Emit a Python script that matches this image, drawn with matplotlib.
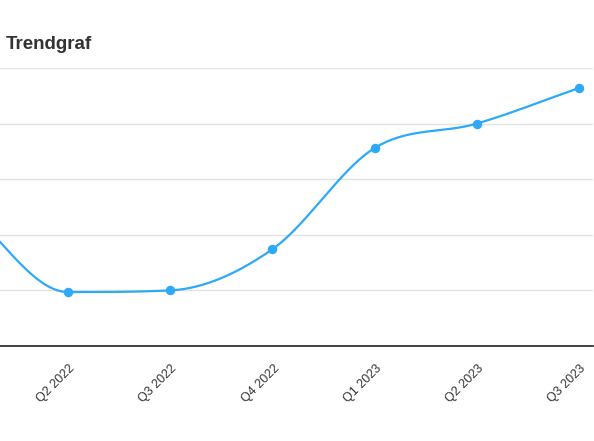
import numpy as np
import matplotlib
matplotlib.use("Agg")
import matplotlib.pyplot as plt
from matplotlib.transforms import ScaledTranslation

quarters = ["Q1 2022", "Q2 2022", "Q3 2022", "Q4 2022", "Q1 2023", "Q2 2023", "Q3 2023"]
values = [2.5, 0.97, 1.0, 1.74, 3.56, 4.0, 4.64]

line_color = "#2ea9f7"


def monotone_curve(xs, ys, steps=60):
    # chart.js style monotone cubic
    xs = np.asarray(xs, float)
    ys = np.asarray(ys, float)
    d = np.diff(ys) / np.diff(xs)
    m = np.zeros(len(ys))
    m[0] = d[0]
    m[-1] = d[-1]
    for i in range(1, len(ys) - 1):
        if d[i - 1] * d[i] > 0:
            m[i] = (d[i - 1] + d[i]) / 2
    for i in range(len(d)):
        if abs(d[i]) < 1e-9:
            m[i] = m[i + 1] = 0
            continue
        a = m[i] / d[i]
        b = m[i + 1] / d[i]
        s = a * a + b * b
        if s <= 9:
            continue
        tau = 3 / np.sqrt(s)
        m[i] = a * tau * d[i]
        m[i + 1] = b * tau * d[i]
    px, py = [], []
    for i in range(len(d)):
        h = xs[i + 1] - xs[i]
        t = np.linspace(0, 1, steps)
        h00 = 2 * t**3 - 3 * t**2 + 1
        h10 = t**3 - 2 * t**2 + t
        h01 = -2 * t**3 + 3 * t**2
        h11 = t**3 - t**2
        px.extend(xs[i] + t * h)
        py.extend(h00 * ys[i] + h10 * h * m[i] + h01 * ys[i + 1] + h11 * h * m[i + 1])
    return np.array(px), np.array(py)


x = np.arange(len(quarters))
cx, cy = monotone_curve(x, values)

fig = plt.figure(figsize=(5.94, 4.41), dpi=100)
ax = fig.add_axes([0, 95 / 441, 593 / 594, 278 / 441])

for g in [1, 2, 3, 4, 5]:
    ax.axhline(g, color="#e2e2e2", lw=1, zorder=0)

ax.plot(cx, cy, color=line_color, lw=1.6, zorder=2)
ax.plot(x, values, "o", color=line_color, ms=5.8, zorder=3)

ax.set_yticks([])
ax.set_xticks(x)
ax.set_xticklabels(quarters, rotation=45, ha="right", va="center",
                   rotation_mode="anchor", fontsize=9, color="#333333",
                   family="Liberation Sans")
ax.tick_params(axis="x", length=0, pad=15)
shift = ScaledTranslation(5 / 100, 0, fig.dpi_scale_trans)
for lbl in ax.get_xticklabels():
    lbl.set_transform(lbl.get_transform() + shift)
# the chart is cropped on the left, first quarter sits outside the view
ax.set_xlim(0.335, 6.137)
ax.set_ylim(0, 5)

for side in ["top", "right", "left"]:
    ax.spines[side].set_visible(False)
ax.spines["bottom"].set_color("#333333")
ax.spines["bottom"].set_linewidth(1.3)

fig.text(6 / 594, 1 - 49 / 441, "Trendgraf", fontsize=13.5, fontweight="bold",
         color="#333333", family="Liberation Sans", va="baseline", ha="left")

fig.savefig("out.png", dpi=100)
